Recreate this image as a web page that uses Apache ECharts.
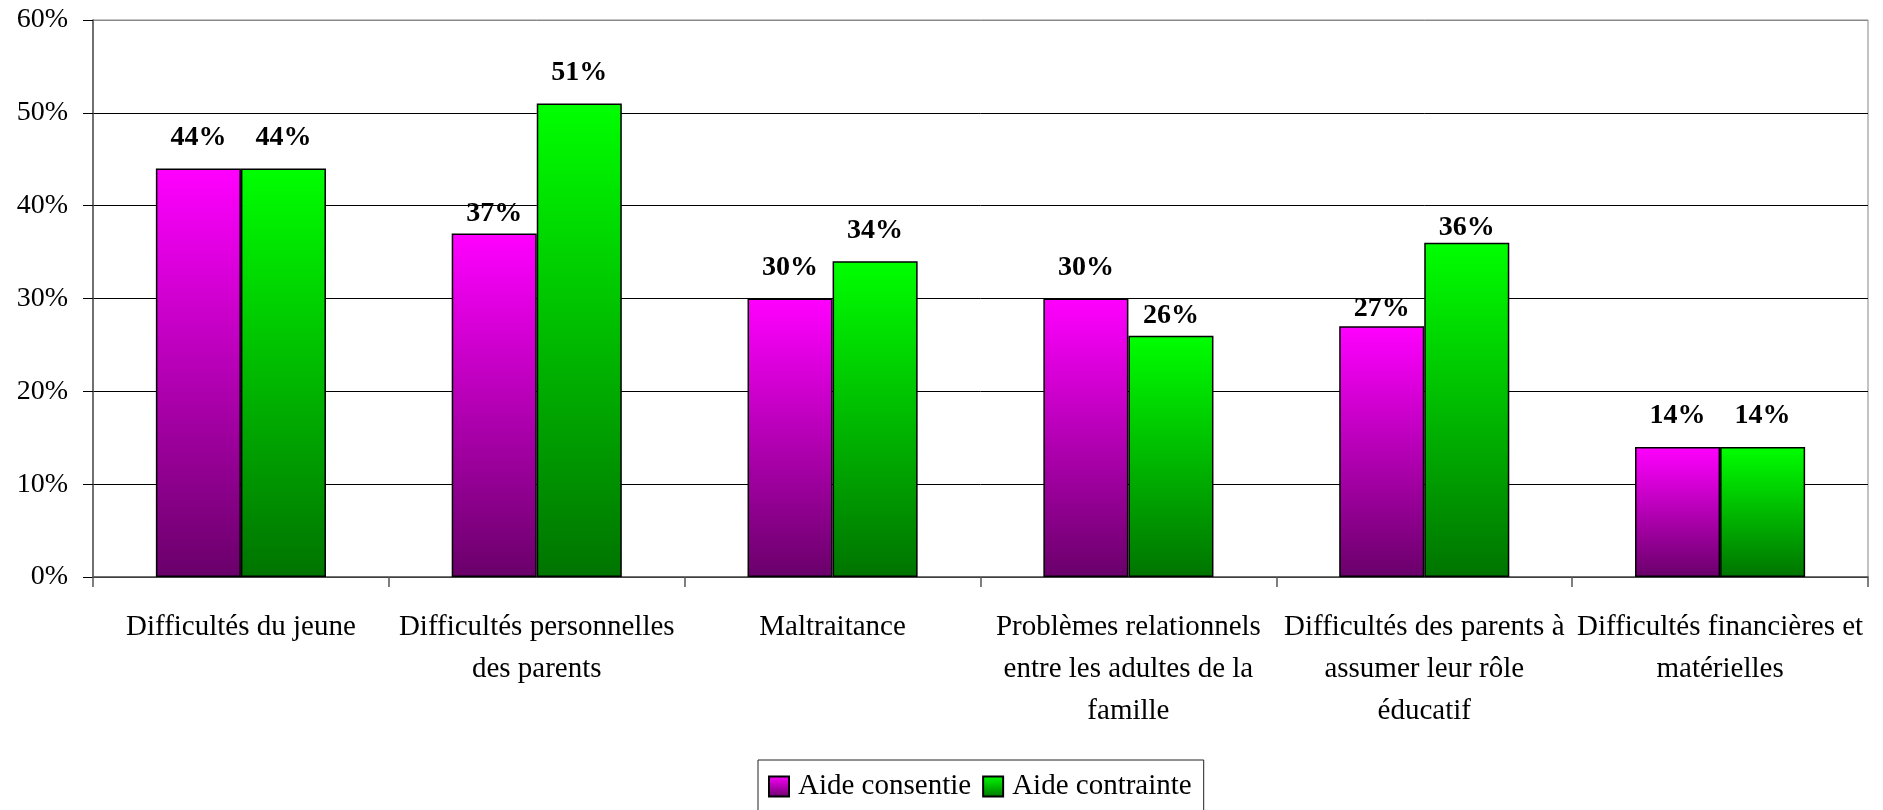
<!DOCTYPE html>
<html>
<head>
<meta charset="utf-8">
<script src="https://cdn.jsdelivr.net/npm/echarts@6/dist/echarts.min.js"></script>
<style>
html,body{margin:0;padding:0;background:#fff;}
#chart{width:1883px;height:810px;}
</style>
</head>
<body>
<div id="chart"></div>
<script>
const categories = [
  "Difficultés du jeune",
  "Difficultés personnelles\ndes parents",
  "Maltraitance",
  "Problèmes relationnels\nentre les adultes de la\nfamille",
  "Difficultés des parents à\nassumer leur rôle\néducatif",
  "Difficultés financières et\nmatérielles"
];
const seriesNames = ["Aide consentie", "Aide contrainte"];
const aideConsentie = [44, 37, 30, 30, 27, 14];
const aideContrainte = [44, 51, 34, 26, 36, 14];
const yTicks = [0, 10, 20, 30, 40, 50, 60];

const FONT = '"Liberation Serif", "Times New Roman", serif';

// label distances (style): default, and a few labels sit closer to their bar
const defaultDist = 17;
const closeDist = [
  {1: 6, 4: 4},        // Aide consentie
  {3: 6, 4: 1}         // Aide contrainte
];

function grad(top, bottom) {
  return new echarts.graphic.LinearGradient(0, 0, 0, 1, [
    {offset: 0, color: top},
    {offset: 1, color: bottom}
  ]);
}

function buildData(values, si) {
  return values.map((v, i) => ({
    value: v,
    label: {distance: (closeDist[si][i] !== undefined) ? closeDist[si][i] : defaultDist}
  }));
}

const colors = [
  grad('#FF00FF', '#6A006A'),
  grad('#00FF00', '#007400')
];

const chart = echarts.init(document.getElementById('chart'), null, {renderer: 'canvas'});
chart.setOption({
  animation: false,
  backgroundColor: '#fff',
  textStyle: {fontFamily: FONT},
  grid: {
    left: 93, right: 15, top: 20, bottom: 233,
    show: true, borderColor: '#888', borderWidth: 1,
    containLabel: false, outerBoundsMode: 'none'
  },
  legend: {
    show: true,
    data: seriesNames,
    left: 758,
    top: 760,
    orient: 'horizontal',
    borderColor: '#222',
    borderWidth: 1,
    padding: [12, 12, 20, 10],
    itemGap: 11,
    itemWidth: 20,
    itemHeight: 20,
    icon: 'rect',
    textStyle: {fontFamily: FONT, fontSize: 29, color: '#000', padding: [0, 0, 0, 4]}
  },
  xAxis: {
    type: 'category',
    data: categories,
    axisLine: {show: true, lineStyle: {color: '#555', width: 1.5}},
    axisTick: {show: true, length: 10, interval: 0, lineStyle: {color: '#555', width: 1.5}},
    axisLabel: {
      interval: 0, margin: 29, fontFamily: FONT, fontSize: 29, color: '#000',
      lineHeight: 42, align: 'center'
    },
    splitLine: {show: false}
  },
  yAxis: {
    type: 'value',
    min: yTicks[0],
    max: yTicks[yTicks.length - 1],
    interval: yTicks[1] - yTicks[0],
    axisLine: {show: true, lineStyle: {color: '#555', width: 1.5}},
    axisTick: {show: true, length: 10, lineStyle: {color: '#000', width: 1}},
    axisLabel: {margin: 25, fontFamily: FONT, fontSize: 28, color: '#000', formatter: '{value}%'},
    splitLine: {show: true, lineStyle: {color: ['#000', '#000', '#000', '#000', '#000', '#000', '#888'], width: 1}}
  },
  series: [aideConsentie, aideContrainte].map((vals, si) => ({
    name: seriesNames[si],
    type: 'bar',
    data: buildData(vals, si),
    barGap: '0%',
    barCategoryGap: '42.5%',
    itemStyle: {color: colors[si], borderColor: '#000', borderWidth: 1.5},
    label: {
      show: true, position: 'top',
      fontFamily: FONT, fontSize: 28, fontWeight: 'bold', color: '#000',
      formatter: '{c}%'
    }
  }))
});
</script>
</body>
</html>
